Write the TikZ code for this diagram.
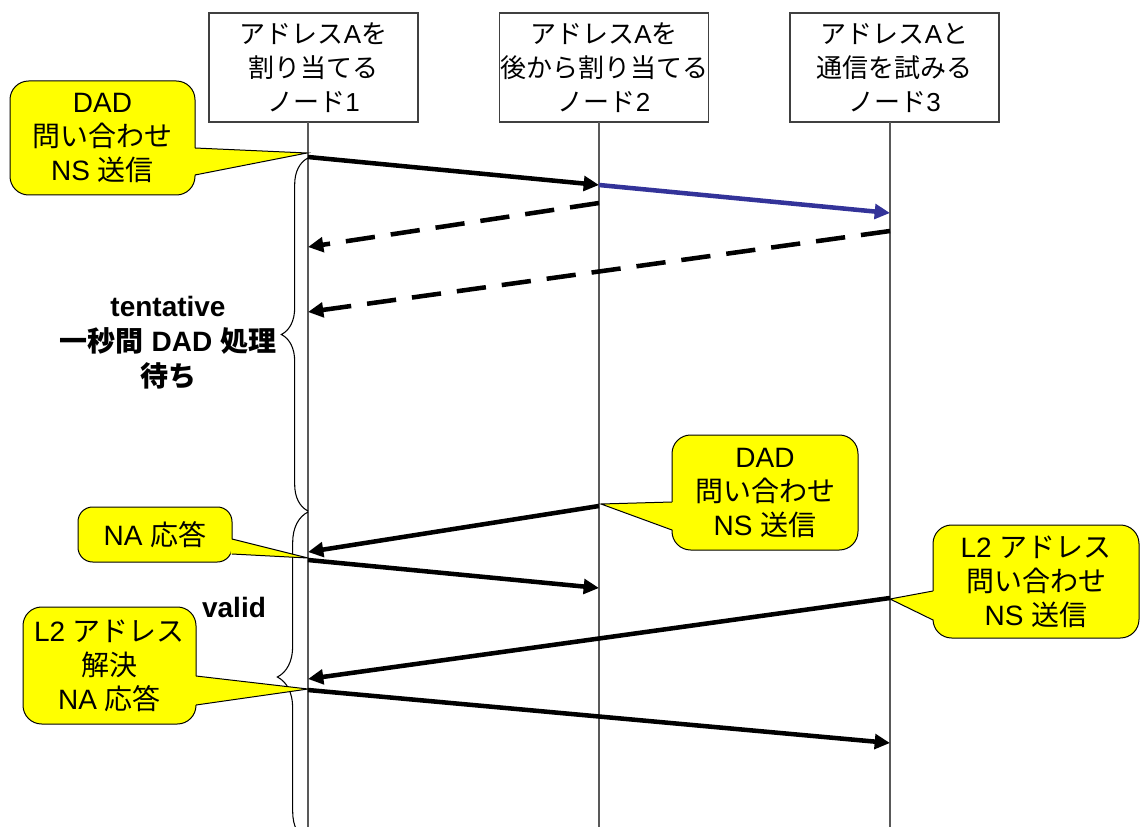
\documentclass[tikz,border=0pt]{standalone}
\usepackage{fontspec}
\setmainfont{Liberation Sans}
\newfontfamily\jpfont{Noto Sans CJK JP}
\newcommand\J[1]{{\jpfont #1}}
\usetikzlibrary{arrows.meta,decorations.pathreplacing,calc}
\definecolor{coyel}{RGB}{255,255,0}
\definecolor{msgblue}{RGB}{51,51,153}
\tikzset{
  hdr/.style={draw=black!75, line width=0.8pt, fill=white, minimum width=156.75pt, minimum height=81.75pt, inner sep=0pt, align=center, font=\fontsize{19.5}{25.5}\selectfont},
  co/.style={draw=black, line width=0.75pt, fill=coyel, rounded corners=14pt, inner sep=0pt, align=center, font=\fontsize{21}{25.5}\selectfont},
  wedge/.style={draw=black, line width=0.75pt, line join=miter},
  lifeline/.style={draw=black!65, line width=0.9pt},
  msg/.style={line width=3.4pt, -{Triangle[length=11.5pt,width=11pt]}},
  dmsg/.style={msg, dash pattern=on 22pt off 12pt},
  lbl/.style={font=\fontsize{21}{26.25}\selectfont\bfseries, align=center, inner sep=0pt},
  brc/.style={decorate, line width=0.8pt},
}
\begin{document}
\begin{tikzpicture}[x=0.75pt,y=-0.75pt]
\clip (0,0) rectangle (1142,827);
\fill[white] (0,0) rectangle (1142,827);

% header boxes
\node[hdr] (h1) at (313.5,67.5) {\J{アドレス}A\J{を}\\\J{割り当てる}\\\J{ノード}1};
\node[hdr] (h2) at (604,67.5) {\J{アドレス}A\J{を}\\\J{後から割り当てる}\\\J{ノード}2};
\node[hdr] (h3) at (894.5,67.5) {\J{アドレス}A\J{と}\\\J{通信を試みる}\\\J{ノード}3};

% lifelines
\coordinate (l1t) at (308,122); \coordinate (l1b) at (308,827);
\coordinate (l2t) at (599,122); \coordinate (l2b) at (599,827);
\coordinate (l3t) at (890,122); \coordinate (l3b) at (890,827);
\draw[lifeline] (l1t) -- (l1b);
\draw[lifeline] (l2t) -- (l2b);
\draw[lifeline] (l3t) -- (l3b);

% braces
\coordinate (b1s) at (308,511); \coordinate (b1e) at (308,158);
\coordinate (b2s) at (308,842); \coordinate (b2e) at (308,512);
\draw[brc, decoration={brace, amplitude=20pt}] (b1s) -- (b1e);
\draw[brc, decoration={brace, amplitude=23pt}] (b2s) -- (b2e);

% labels
\node[lbl] (tent) at (168,343) {tentative\\\J{一秒間} DAD \J{処理}\\\J{待ち}};
\node[lbl] (valid) at (234,607) {valid};

% callouts
\node[co, minimum width=138.75pt, minimum height=85.5pt] (c1) at (102.5,138) {DAD\\\J{問い合わせ}\\NS \J{送信}};
\coordinate (t1) at (307,153);
\fill[coyel] (193.6,148) -- (t1) -- (193.6,175) -- cycle;
\draw[wedge] (195,148) -- (t1) -- (195,175);

\node[co, minimum width=139.5pt, minimum height=86.25pt] (c2) at (765,492.5) {DAD\\\J{問い合わせ}\\NS \J{送信}};
\coordinate (t2) at (601,504);
\fill[coyel] (673.4,502) -- (t2) -- (673.4,530) -- cycle;
\draw[wedge] (672,502) -- (t2) -- (672,530);

\node[co, rounded corners=11pt, minimum width=115.5pt, minimum height=41.25pt] (c3) at (155,534.5) {NA \J{応答}};
\coordinate (t3) at (308,558);
\fill[coyel] (230.6,539) -- (t3) -- (230.6,554) -- cycle;
\draw[wedge] (232,539) -- (t3) -- (232,554);

\node[co, minimum width=154.5pt, minimum height=84.75pt] (c4) at (1036,581.5) {L2 \J{アドレス}\\\J{問い合わせ}\\NS \J{送信}};
\coordinate (t4) at (890,599);
\fill[coyel] (934.4,591) -- (t4) -- (934.4,620) -- cycle;
\draw[wedge] (933,591) -- (t4) -- (933,620);

\node[co, minimum width=129.75pt, minimum height=87.75pt] (c5) at (109.5,665.5) {L2 \J{アドレス}\\\J{解決}\\NA \J{応答}};
\coordinate (t5) at (308,689);
\fill[coyel] (194.6,676) -- (t5) -- (194.6,705) -- cycle;
\draw[wedge] (196,676) -- (t5) -- (196,705);

% message end points
\coordinate (m1a) at (308,157); \coordinate (m1b) at (599,185);
\coordinate (m2a) at (599,185); \coordinate (m2b) at (890,213);
\coordinate (d1a) at (599,203); \coordinate (d1b) at (308,247);
\coordinate (d2a) at (890,231); \coordinate (d2b) at (308,312);
\coordinate (m3a) at (599,506); \coordinate (m3b) at (308,552);
\coordinate (m4a) at (308,560); \coordinate (m4b) at (599,588);
\coordinate (m5a) at (890,598); \coordinate (m5b) at (308,679);
\coordinate (m6a) at (308,690); \coordinate (m6b) at (890,743);

% messages
\draw[msg] (m1a) -- (m1b);
\draw[msg, draw=msgblue, fill=msgblue] (m2a) -- (m2b);
\draw[dmsg] (d1a) -- (d1b);
\draw[dmsg] (d2a) -- (d2b);
\draw[msg] (m3a) -- (m3b);
\draw[msg] (m4a) -- (m4b);
\draw[msg] (m5a) -- (m5b);
\draw[msg] (m6a) -- (m6b);
\end{tikzpicture}
\end{document}
